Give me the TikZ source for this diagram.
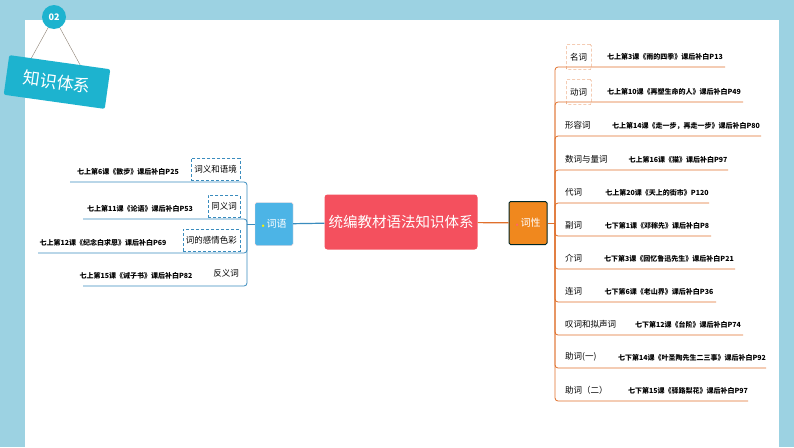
\documentclass[tikz,border=0pt]{standalone}
\usepackage{fontspec}
\setmainfont{Noto Sans CJK SC}
\usetikzlibrary{positioning,calc}
\definecolor{frameblue}{HTML}{9CD2E2}
\definecolor{badgeteal}{HTML}{1DB3CF}
\definecolor{rootred}{HTML}{F4505E}
\definecolor{wordblue}{HTML}{4CB4E6}
\definecolor{posorange}{HTML}{F0881E}
\definecolor{lineblue}{HTML}{3A8CBE}
\definecolor{lineorange}{HTML}{E0702C}

\begin{document}
\begin{tikzpicture}[x=1pt,y=-1pt]
  \tikzset{RootStyle/.style = {
    shape         = rectangle,
    rounded corners = 3pt,
    fill          = rootred,
    text          = white,
    minimum width = 147pt,
    minimum height= 55pt,
    inner sep     = 4pt,
    font          = \fontsize{14.5}{14.5}\selectfont
    }
  }
  \tikzset{TopicStyle/.style = {
    shape         = rectangle,
    rounded corners = 1.5pt,
    text          = white,
    minimum width = 38pt,
    minimum height= 43pt,
    inner sep     = 1pt,
    font          = \fontsize{10}{10}\selectfont
    }
  }
  \tikzset{LeafStyle/.style = {
    text          = black,
    inner sep     = 1pt,
    font          = \fontsize{8.5}{8.5}\selectfont
    }
  }
  \tikzset{RefStyle/.style = {
    text          = black,
    inner sep     = 1pt,
    font          = \bfseries\fontsize{7}{7}\selectfont
    }
  }
  \tikzset{DashBoxStyle/.style = {
    draw          = lineblue,
    densely dashed,
    inner sep     = 3pt,
    minimum height= 22pt
    }
  }
  \tikzset{OrangeBoxStyle/.style = {
    draw          = lineorange,
    densely dashed,
    rounded corners = 1pt,
    inner sep     = 4pt,
    minimum height= 25pt
    }
  }

  % background
  \fill[frameblue] (0,0) rectangle (794,447);
  \fill[white] (25,20) rectangle (779,447);

  % badge
  \node[fill=badgeteal, text=white, rounded corners=2pt, minimum width=102pt,
    minimum height=40pt, rotate=-8, font=\fontsize{17}{17}\selectfont] (badge) at (57,82) {知识体系};
  \coordinate (hookl) at ($(badge.north west)!0.22!(badge.north east)$);
  \coordinate (hookr) at ($(badge.north west)!0.70!(badge.north east)$);
  \draw[gray!80!brown, thin] (hookl) -- (54,17) -- (hookr);
  \node[circle, fill=badgeteal, text=white, minimum size=24pt, inner sep=0pt,
    font=\bfseries\fontsize{9}{9}\selectfont] (num) at (54,17) {02};

  % centre
  \node[RootStyle] (root) at (401,222) {统编教材语法知识体系};
  \node[TopicStyle, fill=wordblue, draw=pink!60] (ciyu) at (274,224) {\textcolor{yellow}{\tiny$\bullet$}\,词语};
  \node[TopicStyle, fill=posorange, draw=black!70!teal, line width=1pt] (cixing) at (528,223) {\textcolor{red!60}{\tiny$\bullet$}\,词性};
  \draw[lineblue, line width=1.2pt] (root) -- (ciyu);
  \draw[lineorange, line width=1.2pt] (root) -- (cixing);

  % left branch
  \coordinate (lhub) at (247,224);
  \draw[lineblue, thick] (ciyu.west) -- (lhub);
  \foreach \y/\x/\lab/\rf/\rx/\bx in {
      182/70/词义和语境/七上第6课《散步》课后补白P25/128/1,
      219/83/同义词/七上第11课《论语》课后补白P53/140/1,
      253/38/词的感情色彩/七上第12课《纪念白求恩》课后补白P69/103/1,
      286/83/反义词/七上第15课《诫子书》课后补白P82/136/0} {
    \ifnum\bx=1
      \node[LeafStyle, DashBoxStyle, anchor=east] (l\y) at (240,\y-13) {\lab};
    \else
      \node[LeafStyle, anchor=east] (l\y) at (240,\y-13) {\lab};
    \fi
    \node[RefStyle] (r\y) at (\rx,\y-10) {\rf};
    \coordinate (e\y) at (\x,\y);
    \draw[lineblue, thick, rounded corners=3pt] (e\y) -- (247,\y) -- (lhub);
  }

  % right branch
  \coordinate (rhub) at (555,223);
  \draw[lineorange, thick] (cixing.east) -- (rhub);
  \foreach \y/\x/\lab/\rf/\rx/\bx in {
      67/725/名词/七上第3课《雨的四季》课后补白P13/665/1,
      102/743/动词/七上第10课《再塑生命的人》课后补白P49/674/1,
      136/761/形容词/七上第14课《走一步，再走一步》课后补白P80/686/0,
      170/728/数词与量词/七上第16课《猫》课后补白P97/678/0,
      203/709/代词/七上第20课《天上的街市》P120/657/0,
      236/711/副词/七下第1课《邓稼先》课后补白P8/657/0,
      269/735/介词/七下第3课《回忆鲁迅先生》课后补白P21/669/0,
      302/716/连词/七下第6课《老山界》课后补白P36/659/0,
      335/743/叹词和拟声词/七下第12课《台阶》课后补白P74/688/0,
      368/766/助词(一)/七下第14课《叶圣陶先生二三事》课后补白P92/692/0,
      401/748/助词（二）/七下第15课《驿路梨花》课后补白P97/688/0} {
    \ifnum\bx=1
      \node[LeafStyle, OrangeBoxStyle, anchor=west] (c\y) at (566,\y-10) {\lab};
    \else
      \node[LeafStyle, anchor=west] (c\y) at (564,\y-11) {\lab};
    \fi
    \node[RefStyle] (p\y) at (\rx,\y-10) {\rf};
    \coordinate (f\y) at (\x,\y);
    \draw[lineorange, thick, rounded corners=3pt] (f\y) -- (555,\y) -- (rhub);
  }
\end{tikzpicture}
\end{document}
